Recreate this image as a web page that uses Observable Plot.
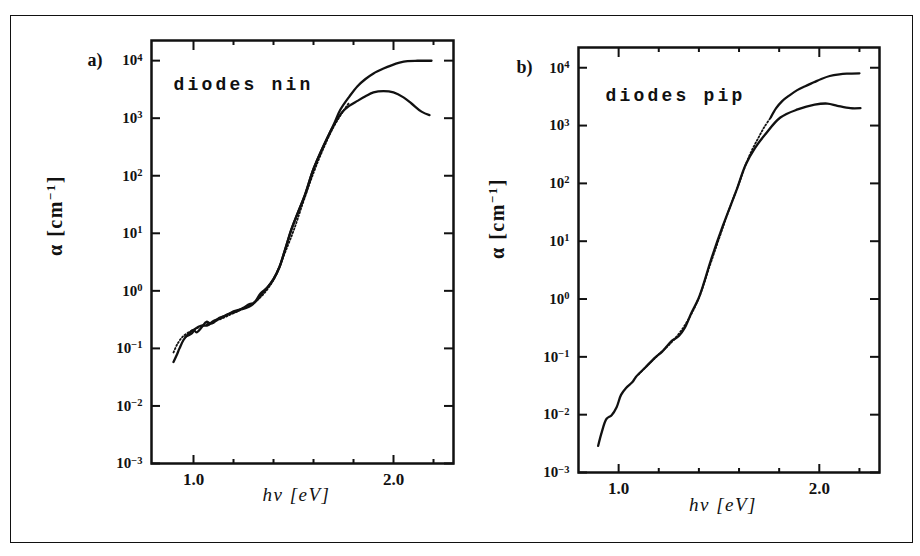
<!DOCTYPE html>
<html><head><meta charset="utf-8">
<script src="https://cdn.jsdelivr.net/npm/d3@7"></script>
<script src="https://cdn.jsdelivr.net/npm/@observablehq/plot@0.6"></script>
<style>
html,body{margin:0;padding:0;background:#fff;}
#wrap{position:relative;width:920px;height:556px;overflow:hidden;background:#fff;}
#border{position:absolute;left:10px;top:15px;width:903px;height:528px;border:1.6px solid #111;box-sizing:border-box;}
.panel{position:absolute;top:0;}
</style></head><body>
<div id="wrap"><div id="border"></div><div id="pa" class="panel" style="left:0px"></div><div id="pb" class="panel" style="left:460px"></div></div>
<script>
// ---------- data ----------
const xMajor = [1.0, 2.0];
const xMinor = [1.2, 1.4, 1.6, 1.8, 2.2];
const yTicks = [1e-3, 1e-2, 1e-1, 1, 10, 100, 1000, 10000];

// panel a) diodes nin
const ninSolidX = [0.90,0.915,0.93,0.95,0.975,1.00,1.015,1.04,1.065,1.085,1.10,1.13,1.16,1.20,1.23,1.26,1.29,1.31,1.335,1.37,1.40,1.43,1.46,1.49,1.52,1.556,1.60,1.65,1.70,1.745,1.78,1.82,1.86,1.90,1.95,2.00,2.05,2.09,2.14,2.18];
const ninSolidY = [0.058,0.075,0.10,0.14,0.18,0.21,0.19,0.23,0.29,0.27,0.28,0.34,0.37,0.44,0.47,0.50,0.56,0.66,0.90,1.15,1.6,2.6,5.5,11.8,22,45,131,330,740,1290,1650,2000,2400,2800,2950,2800,2300,1800,1300,1130];
const ninUpX = [0.96,0.99,1.01,1.04,1.07,1.10,1.13,1.17,1.21,1.25,1.28,1.30,1.32,1.35,1.37,1.40,1.43,1.46,1.49,1.52,1.556,1.60,1.65,1.70,1.734,1.78,1.82,1.86,1.90,1.95,1.99,2.03,2.07,2.12,2.19];
const ninUpY = [0.16,0.18,0.22,0.25,0.25,0.30,0.33,0.39,0.43,0.51,0.59,0.61,0.70,0.95,1.15,1.6,2.6,5.5,11.8,22,45,131,330,760,1400,2400,3600,4800,6000,7300,8300,9200,9800,9950,9950];
const ninFitX = [0.90,0.92,0.95,1.00,1.05,1.10,1.15,1.20,1.25,1.30,1.35,1.40,1.45,1.50,1.55,1.60,1.65,1.70,1.75,1.78];
const ninFitY = [0.085,0.12,0.165,0.21,0.25,0.29,0.34,0.41,0.49,0.62,0.88,1.55,4.0,11,36,112,300,700,1350,1900];

// panel b) diodes pip
const pipSolidX = [0.898,0.916,0.94,0.965,0.99,1.012,1.037,1.07,1.086,1.134,1.183,1.217,1.266,1.30,1.33,1.363,1.397,1.425,1.458,1.52,1.586,1.633,1.68,1.73,1.806,1.892,1.977,2.04,2.09,2.155,2.205];
const pipSolidY = [0.0029,0.005,0.0085,0.0098,0.0135,0.022,0.029,0.037,0.045,0.066,0.098,0.123,0.19,0.23,0.32,0.58,1.0,1.9,4.5,18.7,74,210,410,700,1380,1900,2300,2400,2200,2000,2000];
const pipUpX = [1.758,1.785,1.815,1.85,1.89,1.93,1.973,2.01,2.052,2.10,2.137,2.20];
const pipUpY = [1380,2000,2650,3300,4100,4800,5600,6400,7200,7700,7900,8000];
const pipFitX = [1.10,1.15,1.20,1.25,1.30,1.35,1.40,1.45,1.50,1.55,1.60,1.633,1.665,1.695,1.725,1.758];
const pipFitY = [0.05,0.075,0.11,0.16,0.25,0.46,1.05,3.4,11,35,100,210,380,600,930,1380];

const zip = (xs, ys) => xs.map((x, i) => ({x, y: ys[i]}));
const supMap = {"-": "\u207B", "0": "\u2070", "1": "\u00B9", "2": "\u00B2", "3": "\u00B3", "4": "\u2074"};
const pow10 = d => "10" + String(Math.round(Math.log10(d))).split("").map(c => supMap[c]).join("");
const unSup = {"\u207B": "\u2212", "\u2070": "0", "\u00B9": "1", "\u00B2": "2", "\u00B3": "3", "\u2074": "4"};

function panel(el, cfg) {
  const tk = {strokeWidth: 2, fill: "none", label: null, stroke: "#111"};
  const chart = Plot.plot({
    width: 460, height: cfg.h,
    marginLeft: cfg.ml, marginRight: cfg.mr, marginTop: cfg.mt, marginBottom: cfg.mb,
    x: {domain: cfg.xd},
    y: {type: "log", domain: [1e-3, Math.pow(10, 4.35)]},
    style: {fontFamily: "'Liberation Serif', 'DejaVu Serif', serif", color: "#111", background: "transparent", overflow: "visible"},
    marks: [
      Plot.axisX({anchor: "bottom", ticks: xMajor, tickSize: -8, ...tk}),
      Plot.axisX({anchor: "bottom", ticks: xMinor, tickSize: -4, ...tk}),
      Plot.axisX({anchor: "top", ticks: xMajor, tickSize: -9, ...tk}),
      Plot.axisX({anchor: "top", ticks: xMinor, tickSize: -4, ...tk}),
      Plot.axisY({anchor: "left", ticks: yTicks, tickSize: -9, ...tk}),
      Plot.axisY({anchor: "right", ticks: yTicks, tickSize: -10, ...tk}),
      Plot.axisX({anchor: "bottom", ticks: xMajor, tickSize: 0, tickPadding: 9, tickFormat: d => d.toFixed(1), fontSize: 17, fontWeight: "bold", label: null}),
      Plot.axisY({anchor: "left", ticks: yTicks, tickSize: 0, tickPadding: 9, tickFormat: pow10, fontSize: 15, fontWeight: "bold", label: null}),
      Plot.frame({strokeWidth: 2.5, stroke: "#111"}),
      Plot.line(zip(cfg.fitX, cfg.fitY), {x: "x", y: "y", stroke: "#111", strokeWidth: 1.8, strokeDasharray: "1.3 2.2", curve: "catmull-rom"}),
      Plot.line(zip(cfg.solidX, cfg.solidY), {x: "x", y: "y", stroke: "#111", strokeWidth: 2.3, curve: "catmull-rom"}),
      Plot.line(zip(cfg.upX, cfg.upY), {x: "x", y: "y", stroke: "#111", strokeWidth: 2.3, curve: "catmull-rom"}),
      Plot.text([cfg.tag], {frameAnchor: "top-left", dx: cfg.tagDx, dy: 13, fontSize: 18, fontWeight: "bold", text: d => d}),
      Plot.text([cfg.name], {frameAnchor: "top-left", dx: cfg.nameDx, dy: cfg.nameDy, textAnchor: "start", fontSize: 18, fontWeight: "bold", fontFamily: "'Liberation Mono', 'DejaVu Sans Mono', monospace", text: d => d}),
      Plot.text(["\u03B1 [cm\u207B\u00B9]"], {frameAnchor: "left", dx: cfg.ylDx, dy: cfg.ylDy, rotate: -90, fontSize: 20, fontWeight: "bold", text: d => d}),
      Plot.text(["h\u03BD [eV]"], {frameAnchor: "bottom", dx: -6, dy: cfg.xlDy, fontSize: 19, fontStyle: "italic", text: d => d})
    ]
  });
  el.appendChild(chart);
  d3.select(chart).selectAll("text").each(function () {
    const t = this.textContent;
    if (t.startsWith("diodes")) this.setAttribute("letter-spacing", "3.2");
    if (t.startsWith("h\u03BD")) this.setAttribute("letter-spacing", "1.5");
    if (/^10[\u207B\u2070\u00B9\u00B2\u00B3\u2074]+$/.test(t)) {
      const exp = t.slice(2).split("").map(c => unSup[c]).join("");
      this.textContent = "10";
      d3.select(this).append("tspan").attr("font-size", 10.5).attr("dy", "-0.45em").text(exp);
    }
    if (t.startsWith("\u03B1")) {
      this.textContent = "\u03B1 [cm";
      this.setAttribute("letter-spacing", "1.5");
      d3.select(this).append("tspan").attr("font-size", 13).attr("dy", -7).text("\u22121");
      d3.select(this).append("tspan").attr("dy", 7).text("]");
    }
  });
}

panel(document.getElementById("pa"), {
  h: 530, ml: 151, mr: 7, mt: 40, mb: 67, xd: [0.79, 2.3],
  solidX: ninSolidX, solidY: ninSolidY, upX: ninUpX, upY: ninUpY, fitX: ninFitX, fitY: ninFitY,
  tag: "a)", tagDx: -64, name: "diodes nin", nameDx: 22, nameDy: 37,
  ylDx: -96, ylDy: 4, xlDy: 37
});
panel(document.getElementById("pb"), {
  h: 540, ml: 118, mr: 41, mt: 47, mb: 68, xd: [0.8, 2.3],
  solidX: pipSolidX, solidY: pipSolidY, upX: pipUpX, upY: pipUpY, fitX: pipFitX, fitY: pipFitY,
  tag: "b)", tagDx: -62, name: "diodes pip", nameDx: 27, nameDy: 41,
  ylDx: -81, ylDy: -1, xlDy: 38
});
</script></body></html>
